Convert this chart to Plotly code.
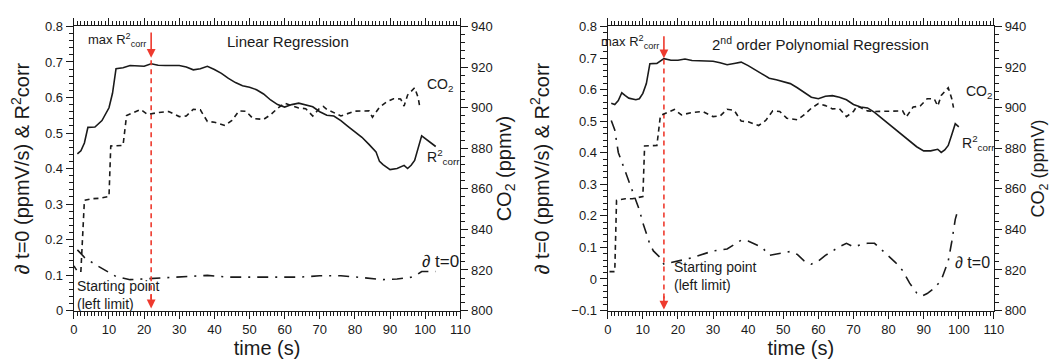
import plotly.graph_objects as go

# ---------------- data ----------------
# Left panel: Linear Regression
lin_r2_t = [1, 2, 3, 4, 6, 8, 10, 11, 12, 14, 16, 18, 20, 22, 24, 26, 30, 32, 34, 36, 38, 40, 42, 44, 46, 48,
            50, 52, 54, 56, 58, 60, 62, 64, 66, 68, 70, 72, 74, 76, 78, 80, 82, 84, 86, 87, 88, 90, 92, 94,
            95, 96, 97, 99, 101, 103]
lin_r2 = [0.441, 0.45, 0.472, 0.516, 0.517, 0.535, 0.571, 0.612, 0.681, 0.684, 0.69, 0.688, 0.688, 0.695,
          0.691, 0.69, 0.69, 0.686, 0.678, 0.681, 0.688, 0.679, 0.668, 0.654, 0.642, 0.633, 0.629, 0.622,
          0.61, 0.593, 0.58, 0.573, 0.58, 0.584, 0.579, 0.574, 0.56, 0.55, 0.548, 0.535, 0.519, 0.504,
          0.488, 0.468, 0.447, 0.42, 0.411, 0.397, 0.4, 0.409, 0.4, 0.409, 0.423, 0.492, 0.477, 0.462]

lin_co2_t = [0, 1, 2, 2.5, 3, 5, 7, 10, 10.5, 14, 15, 17, 19, 21, 24, 27, 30, 32, 34, 36, 38, 40, 43, 45,
             47, 49, 51, 54, 56, 58, 60, 62, 64, 66, 68, 70, 71, 72, 74, 76, 80, 84, 85, 87, 89, 91, 93,
             94, 95, 97, 98, 98.5]
lin_co2 = [822, 819.4, 819.4, 840, 854.3, 855.1, 855.3, 856.2, 881.1, 881.4, 896.1, 897.6, 899.1, 896.6,
           897.6, 898.1, 895.6, 895.9, 899.2, 898.9, 893.2, 892.8, 891.2, 893.7, 898.4, 898.2, 894.6,
           894.2, 896.5, 899.7, 902.2, 901.0, 899.8, 899.5, 895.9, 899.9, 900.6, 899.2, 897.6, 895.9,
           898.3, 898.4, 895.3, 900.2, 902.8, 904.4, 904.3, 900.8, 906.2, 909.8, 905.0, 900.0]

lin_dt0_t = [1, 3, 6, 9, 12, 16, 20, 24, 30, 38, 44, 50, 58, 64, 70, 76, 82, 88, 92, 96, 98, 99, 103]
lin_dt0 = [0.171, 0.15, 0.13, 0.112, 0.096, 0.087, 0.089, 0.091, 0.094, 0.099, 0.094, 0.094, 0.092,
           0.094, 0.098, 0.098, 0.093, 0.087, 0.089, 0.094, 0.103, 0.11, 0.11]

# Right panel: 2nd order Polynomial Regression
pol_r2_t = [1, 2, 3, 4, 5, 6, 8, 9, 10, 11, 12, 14, 16, 18, 20, 22, 24, 30, 32, 34, 36, 38, 40, 42, 44,
            46, 48, 50, 52, 54, 56, 58, 60, 62, 64, 66, 68, 70, 72, 74, 76, 78, 80, 82, 84, 86, 88, 90,
            92, 94, 95, 96, 97, 98, 99, 100]
pol_r2 = [0.557, 0.553, 0.565, 0.59, 0.581, 0.573, 0.568, 0.571, 0.588, 0.619, 0.682, 0.683, 0.698, 0.693,
          0.693, 0.697, 0.692, 0.69, 0.685, 0.679, 0.683, 0.687, 0.676, 0.662, 0.649, 0.636, 0.631, 0.626,
          0.619, 0.606, 0.59, 0.576, 0.571, 0.579, 0.581, 0.576, 0.568, 0.553, 0.545, 0.542, 0.528, 0.51,
          0.492, 0.474, 0.455, 0.437, 0.419, 0.406, 0.406, 0.411, 0.401, 0.409, 0.423, 0.457, 0.492, 0.482]

pol_co2_t = [0.5, 2, 2.5, 5, 7, 10, 10.5, 14, 15, 17, 19, 21, 24, 27, 30, 32, 34, 36, 38, 40, 43, 45, 47,
             49, 51, 54, 56, 58, 60, 62, 64, 66, 68, 70, 71, 72, 74, 76, 80, 84, 85, 87, 89, 91, 93, 94,
             95, 97, 98, 98.5]
pol_co2 = [819.2, 819.2, 854.3, 855.1, 855.1, 856.2, 881.1, 881.4, 896.1, 897.6, 899.1, 896.4, 897.6,
           898.1, 895.6, 895.9, 899.2, 898.7, 893.4, 893.0, 891.2, 893.7, 898.4, 898.1, 894.8, 894.0,
           896.5, 899.7, 902.0, 901.0, 899.4, 899.5, 895.6, 898.1, 900.8, 900.0, 898.4, 898.1, 898.1,
           898.4, 895.3, 900.3, 900.8, 904.4, 904.4, 900.8, 906.0, 909.8, 904.4, 900.0]

pol_dt0_t = [1, 2, 3, 4, 6, 8, 9, 10, 11, 12, 13, 15, 16, 18, 20, 24, 30, 34, 38, 40, 42, 44, 46, 48, 52,
             54, 56, 58, 60, 62, 64, 66, 68, 70, 72, 74, 76, 78, 80, 82, 84, 86, 88, 89.5, 91, 93, 95, 97,
             98, 99, 99.5, 100]
pol_dt0 = [0.502, 0.472, 0.401, 0.371, 0.315, 0.254, 0.219, 0.178, 0.14, 0.11, 0.089, 0.067, 0.047, 0.052,
           0.059, 0.067, 0.089, 0.095, 0.123, 0.12, 0.11, 0.1, 0.075, 0.079, 0.087, 0.078, 0.057, 0.047,
           0.057, 0.075, 0.089, 0.102, 0.113, 0.102, 0.108, 0.113, 0.113, 0.092, 0.072, 0.052, 0.027,
           -0.013, -0.044, -0.054, -0.046, -0.029, -0.004, 0.057, 0.118, 0.189, 0.209, 0.209]

# Time of maximum R²corr (starting point) for each panel
lin_start_t = 22
pol_start_t = 16

x_ticks = [0, 10, 20, 30, 40, 50, 60, 70, 80, 90, 100, 110]

# ---------------- styling ----------------
FONT = "Liberation Sans, Arial, Helvetica, sans-serif"
INK = "#1a1a1a"
RED = "#ee3a2e"
SOLID = dict(color=INK, width=1.6)
DASH = dict(color=INK, width=1.6, dash="5px,4px")
DASHDOT = dict(color=INK, width=1.6, dash="11px,7px,2px,7px")

fig = go.Figure()

def add_panel(xa, ya, ya2, r2_t, r2, co2_t, co2, dt_t, dt):
    fig.add_trace(go.Scatter(x=r2_t, y=r2, mode="lines", line=SOLID, xaxis=xa, yaxis=ya,
                             showlegend=False, hoverinfo="skip"))
    fig.add_trace(go.Scatter(x=dt_t, y=dt, mode="lines", line=DASHDOT, xaxis=xa, yaxis=ya,
                             showlegend=False, hoverinfo="skip"))
    fig.add_trace(go.Scatter(x=co2_t, y=co2, mode="lines", line=DASH, xaxis=xa, yaxis=ya2,
                             showlegend=False, hoverinfo="skip"))

add_panel("x", "y", "y2", lin_r2_t, lin_r2, lin_co2_t, lin_co2, lin_dt0_t, lin_dt0)
add_panel("x2", "y3", "y4", pol_r2_t, pol_r2, pol_co2_t, pol_co2, pol_dt0_t, pol_dt0)

# invisible traces so the top tick axes get drawn
fig.add_trace(go.Scatter(x=[x_ticks[0], x_ticks[-1]], y=[lin_r2[0], lin_r2[0]], mode="lines",
                         line=dict(width=0), opacity=0, xaxis="x3", yaxis="y",
                         showlegend=False, hoverinfo="skip"))
fig.add_trace(go.Scatter(x=[x_ticks[0], x_ticks[-1]], y=[pol_r2[0], pol_r2[0]], mode="lines",
                         line=dict(width=0), opacity=0, xaxis="x4", yaxis="y3",
                         showlegend=False, hoverinfo="skip"))

# red dashed vertical line (starting point)
fig.add_trace(go.Scatter(x=[lin_start_t, lin_start_t], y=[0.705, 0.02], mode="lines",
                         line=dict(color=RED, width=1.6, dash="5px,4px"), xaxis="x", yaxis="y",
                         showlegend=False, hoverinfo="skip"))
fig.add_trace(go.Scatter(x=[pol_start_t, pol_start_t], y=[0.695, -0.08], mode="lines",
                         line=dict(color=RED, width=1.6, dash="5px,4px"), xaxis="x2", yaxis="y3",
                         showlegend=False, hoverinfo="skip"))

tickfont = dict(family=FONT, size=13, color=INK)
titlefont = dict(family=FONT, size=20, color=INK)

def xaxis_cfg(domain, anchor):
    return dict(domain=domain, anchor=anchor, range=[0, 110], tickvals=x_ticks,
                showline=True, linecolor=INK, linewidth=1.3, mirror=True,
                ticks="outside", ticklen=7, tickwidth=1.2, tickcolor=INK,
                minor=dict(dtick=1, ticklen=4, tickwidth=1, tickcolor=INK, ticks="outside", showgrid=False),
                showgrid=False, zeroline=False, tickfont=tickfont,
                title=dict(text="time (s)", font=titlefont, standoff=4))

def xtop_cfg(overlay, anchor):
    return dict(overlaying=overlay, anchor=anchor, side="top", range=[0, 110], tickvals=x_ticks,
                showline=False, showticklabels=False,
                ticks="outside", ticklen=7, tickwidth=1.2, tickcolor=INK,
                minor=dict(dtick=1, ticklen=4, tickwidth=1, tickcolor=INK, ticks="outside", showgrid=False),
                showgrid=False, zeroline=False)

def yleft_cfg(domain, anchor, rng, dtick, title):
    return dict(domain=domain, anchor=anchor, range=rng, dtick=dtick, tick0=0,
                showline=True, linecolor=INK, linewidth=1.3, mirror=False,
                ticks="outside", ticklen=7, tickwidth=1.2, tickcolor=INK,
                minor=dict(dtick=0.02, ticklen=4, tickwidth=1, tickcolor=INK, ticks="outside", showgrid=False),
                showgrid=False, zeroline=False, tickfont=tickfont,
                title=dict(text=title, font=titlefont, standoff=16))

def yright_cfg(anchor, overlay, title, tsize, standoff):
    return dict(anchor=anchor, overlaying=overlay, side="right", range=[800, 940], dtick=20,
                showline=True, linecolor=INK, linewidth=1.3,
                ticks="outside", ticklen=7, tickwidth=1.2, tickcolor=INK,
                minor=dict(dtick=4, ticklen=4, tickwidth=1, tickcolor=INK, ticks="outside", showgrid=False),
                showgrid=False, zeroline=False, tickfont=tickfont,
                title=dict(text=title, font=dict(family=FONT, size=tsize, color=INK), standoff=standoff))

ydom = [0.1507, 0.967]
fig.update_layout(
    width=1059, height=363,
    margin=dict(l=0, r=0, t=0, b=0),
    paper_bgcolor="white", plot_bgcolor="white",
    font=dict(family=FONT, color=INK),
    xaxis=xaxis_cfg([0.0592, 0.4290], "y"),
    xaxis3=xtop_cfg("x", "y"),
    yaxis=yleft_cfg(ydom, "x", [0, 0.8], 0.1, "∂ t=0 (ppmV/s) & R<sup>2</sup>corr"),
    yaxis2=yright_cfg("x", "y", "CO<sub>2</sub> (ppmv)", 20, 4),
    xaxis2=xaxis_cfg([0.5701, 0.9396], "y3"),
    xaxis4=xtop_cfg("x2", "y3"),
    yaxis3=yleft_cfg(ydom, "x2", [-0.1, 0.8], 0.1, "∂ t=0 (ppmV/s) & R<sup>2</sup>corr"),
    yaxis4=yright_cfg("x2", "y3", "CO<sub>2</sub> (ppmV)", 18, 6),
)

txt = dict(family=FONT, size=14, color=INK)
ann = []
# Left panel annotations
ann += [
    dict(x=lin_start_t, y=0.712, ax=lin_start_t, ay=0.787, xref="x", yref="y", axref="x", ayref="y",
         showarrow=True, arrowhead=2, arrowsize=1.1, arrowwidth=1.6, arrowcolor=RED, text=""),
    dict(x=lin_start_t, y=0.006, ax=lin_start_t, ay=0.05, xref="x", yref="y", axref="x", ayref="y",
         showarrow=True, arrowhead=2, arrowsize=1.1, arrowwidth=1.6, arrowcolor=RED, text=""),
    dict(x=lin_start_t - 0.8, y=0.762, xref="x", yref="y", xanchor="right", showarrow=False,
         text="max R<sup>2</sup><sub>corr</sub>", font=dict(family=FONT, size=13, color=INK)),
    dict(x=61, y=0.757, xref="x", yref="y", showarrow=False, text="Linear Regression",
         font=dict(family=FONT, size=15, color=INK)),
    dict(x=0.3, y=0.043, xref="x", yref="y", xanchor="left", showarrow=False, align="left",
         text="Starting point<br>(left limit)", font=txt),
    dict(x=100, y=0.636, xref="x", yref="y", xanchor="left", showarrow=False,
         text="CO<sub>2</sub>", font=txt),
    dict(x=100, y=0.432, xref="x", yref="y", xanchor="left", showarrow=False,
         text="R<sup>2</sup><sub>corr</sub>", font=txt),
    dict(x=98.6, y=0.137, xref="x", yref="y", xanchor="left", showarrow=False,
         text="∂ t=0", font=dict(family=FONT, size=17, color=INK)),
]
# Right panel annotations
ann += [
    dict(x=pol_start_t, y=0.699, ax=pol_start_t, ay=0.774, xref="x2", yref="y3", axref="x2", ayref="y3",
         showarrow=True, arrowhead=2, arrowsize=1.1, arrowwidth=1.6, arrowcolor=RED, text=""),
    dict(x=pol_start_t, y=-0.097, ax=pol_start_t, ay=-0.05, xref="x2", yref="y3", axref="x2", ayref="y3",
         showarrow=True, arrowhead=2, arrowsize=1.1, arrowwidth=1.6, arrowcolor=RED, text=""),
    dict(x=pol_start_t - 0.7, y=0.752, xref="x2", yref="y3", xanchor="right", showarrow=False,
         text="max R<sup>2</sup><sub>corr</sub>", font=dict(family=FONT, size=13, color=INK)),
    dict(x=60.5, y=0.746, xref="x2", yref="y3", showarrow=False,
         text="2<sup>nd</sup> order Polynomial Regression", font=dict(family=FONT, size=15, color=INK)),
    dict(x=pol_start_t + 2.2, y=0.008, xref="x2", yref="y3", xanchor="left", showarrow=False, align="left",
         text="Starting point<br>(left limit)", font=txt),
    dict(x=101.6, y=0.592, xref="x2", yref="y3", xanchor="left", showarrow=False,
         text="CO<sub>2</sub>", font=txt),
    dict(x=100.3, y=0.432, xref="x2", yref="y3", xanchor="left", showarrow=False,
         text="R<sup>2</sup><sub>corr</sub>", font=txt),
    dict(x=98.4, y=0.052, xref="x2", yref="y3", xanchor="left", showarrow=False,
         text="∂ t=0", font=dict(family=FONT, size=16, color=INK)),
]
fig.update_layout(annotations=ann)

fig.write_html("out.html")
